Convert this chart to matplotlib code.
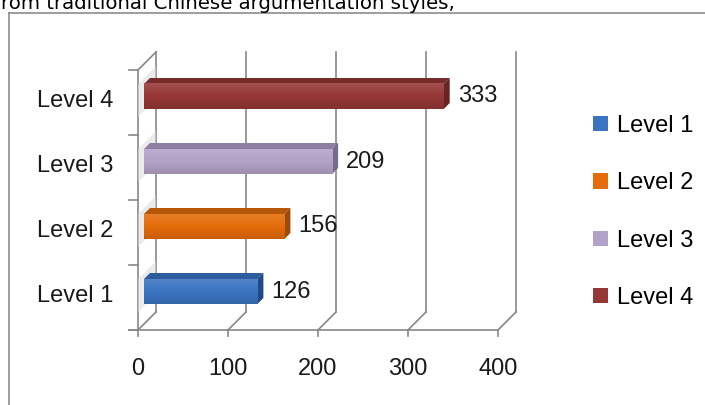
import numpy as np
import matplotlib
matplotlib.use('Agg')
import matplotlib.pyplot as plt
from matplotlib.patches import Polygon, Patch
from matplotlib.colors import LinearSegmentedColormap, to_rgb
from matplotlib.lines import Line2D

# data
categories = ['Level 1', 'Level 2', 'Level 3', 'Level 4']
values = [126, 156, 209, 333]
x_ticks = [0, 100, 200, 300, 400]
front_colors = ['#3A74C2', '#E46C0A', '#B3A2C7', '#953735']
top_colors = ['#2C5C9C', '#B65608', '#8D7EA2', '#772B2A']
side_colors = ['#214A82', '#9E4A07', '#786A8C', '#662423']
caption = 'rom traditional Chinese argumentation styles,'

W, H = 705, 405
fig = plt.figure(figsize=(W / 100, H / 100), dpi=100)
fig.patch.set_facecolor('white')

lab_font = ['Liberation Sans', 'DejaVu Sans']
fs = 17
grid_c = '#878787'

# front plane of the plot: x 0..400, categories -0.5..3.5
ax = fig.add_axes([138 / W, (H - 330) / H, 360 / W, 260 / H])
ax.set_xlim(0, 400)
ax.set_ylim(-0.5, 3.5)
ax.axis('off')

px_x = 400 / 360   # data units per pixel
px_y = 4 / 260
depth = 18          # 3d depth of the back wall in pixels
dX, dY = depth * px_x, depth * px_y
y0, y1 = -0.5, 3.5

# gridlines on floor + back wall
for xv in x_ticks:
    ax.plot([xv, xv + dX], [y0, y0 + dY], color=grid_c, lw=1.2, clip_on=False, zorder=1)
    ax.plot([xv + dX, xv + dX], [y0 + dY, y1 + dY], color=grid_c, lw=1.2, clip_on=False, zorder=1)
    # tick marks below the axis
    ax.plot([xv, xv], [y0, y0 - 6 * px_y], color=grid_c, lw=1.2, clip_on=False, zorder=1)
    ax.text(xv, y0 - 39 * px_y, str(xv), ha='center', va='center', fontsize=fs,
            family=lab_font, color='#1a1a1a')

# left wall
ax.plot([0, 0], [y0, y1], color=grid_c, lw=1.2, clip_on=False, zorder=1)
ax.plot([0, dX], [y1, y1 + dY], color=grid_c, lw=1.2, clip_on=False, zorder=1)
ax.plot([-9 * px_x, x_ticks[-1]], [y0, y0], color=grid_c, lw=1.2, clip_on=False, zorder=1)
for yb in np.arange(y0, y1 + 0.01, 1.0):
    ax.plot([-9 * px_x, 0], [yb, yb], color=grid_c, lw=1.2, clip_on=False, zorder=1)

off = 6        # front face offset (pixels)
bd = 6         # bar depth (pixels)
bh = 25 * px_y
for i, (v, fc, tc, sc) in enumerate(zip(values, front_colors, top_colors, side_colors)):
    xa = off * px_x
    xb = v + off * px_x
    yc = i + off * px_y
    yb_, yt_ = yc - bh / 2, yc + bh / 2
    # soft shadow on the left wall
    ax.add_patch(Polygon([(0, yb_ - 8 * px_y), (0, yt_), (dX, yt_ + dY), (dX, yb_ + dY - 8 * px_y)],
                         closed=True, facecolor='#dcdcdc', edgecolor='none', alpha=0.55,
                         clip_on=False, zorder=1.5))
    rect = ax.barh(yc, v, height=bh, left=xa, color=fc, edgecolor='none', zorder=3, clip_on=False)[0]
    base = np.array(to_rgb(fc))
    cmap = LinearSegmentedColormap.from_list('g', [base + (1 - base) * 0.12, base, base * 0.88])
    im = ax.imshow(np.linspace(0, 1, 64).reshape(-1, 1), extent=[xa, xb, yb_, yt_],
                   aspect='auto', cmap=cmap, origin='upper', zorder=3.1, clip_on=False)
    im.set_clip_path(rect)
    ax.add_patch(Polygon([(xa, yt_), (xb, yt_), (xb + bd * px_x, yt_ + bd * px_y),
                          (xa + bd * px_x, yt_ + bd * px_y)], closed=True, facecolor=tc,
                         edgecolor='none', clip_on=False, zorder=3))
    ax.add_patch(Polygon([(xb, yb_), (xb, yt_), (xb + bd * px_x, yt_ + bd * px_y),
                          (xb + bd * px_x, yb_ + bd * px_y)], closed=True, facecolor=sc,
                         edgecolor='none', clip_on=False, zorder=3))
    ax.text(xb + (bd + 8) * px_x, yc, str(v), ha='left', va='center', fontsize=fs,
            family=lab_font, color='#1a1a1a', zorder=4)
    ax.text(-25 * px_x, i + 2 * px_y, categories[i], ha='right', va='center', fontsize=fs,
            family=lab_font, color='#1a1a1a')

ax.set_xlim(0, 400)
ax.set_ylim(-0.5, 3.5)

handles = [Patch(facecolor=c, edgecolor='none') for c in front_colors]
fig.legend(handles, categories, loc='center left', bbox_to_anchor=(593 / W, 1 - 212 / H),
           frameon=False, borderpad=0, borderaxespad=0, handlelength=0.62, handleheight=0.62,
           handletextpad=0.4, labelspacing=1.5, prop={'family': lab_font, 'size': fs})

# outer frame of the embedded chart
fig.add_artist(Line2D([9 / W, 9 / W], [0, 1 - 13 / H], color='#8c8c8c', lw=1.2))
fig.add_artist(Line2D([9 / W, 1], [1 - 13 / H, 1 - 13 / H], color='#8c8c8c', lw=1.2))

fig.text(0.002, 1 - 9 / H, caption, ha='left', va='baseline', fontsize=14.2,
         family='DejaVu Sans', color='black')

fig.savefig('out.png', dpi=100)
